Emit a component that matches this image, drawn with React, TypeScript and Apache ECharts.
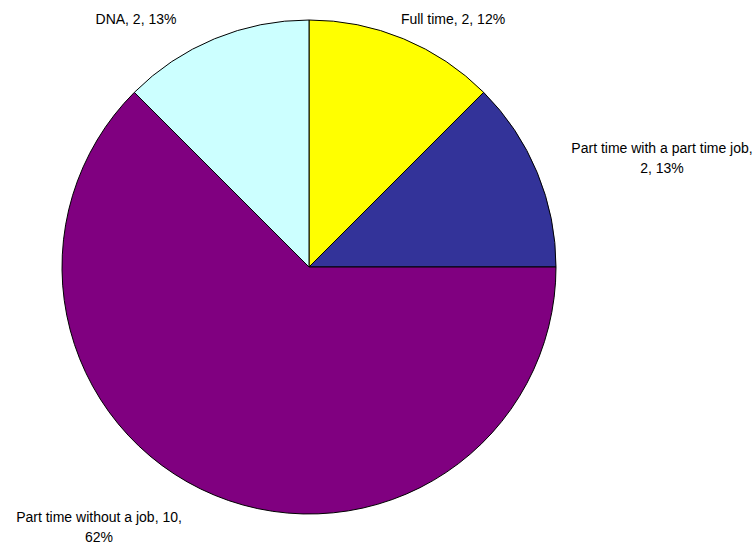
import React, { useEffect, useRef } from "react";
import * as echarts from "echarts";

const categories = ["Full time", "Part time with a part time job", "Part time without a job", "DNA"];
const values = [2, 2, 10, 2];
const percentLabels = ["12%", "13%", "62%", "13%"];
const colors = ["#FFFF00", "#333399", "#800080", "#CCFFFF"];
// number of label parts on the first line (rest goes to second line)
const firstLineParts = [3, 1, 2, 3];
const labelPos = [
  [453, 19],
  [662, 158],
  [99, 527],
  [136, 19],
];

export default function App() {
  const ref = useRef<HTMLDivElement>(null);
  useEffect(() => {
    const chart = echarts.init(ref.current!, undefined, { renderer: "svg" });
    chart.setOption({
      animation: false,
      backgroundColor: "#ffffff",
      series: [
        {
          type: "pie",
          center: [309, 267],
          radius: 247,
          startAngle: 90,
          clockwise: true,
          data: categories.map((c, i) => ({
            name: c,
            value: values[i],
            itemStyle: { color: colors[i] },
          })),
          itemStyle: { borderColor: "#000000", borderWidth: 1 },
          label: {
            show: true,
            position: "outside",
            color: "#000000",
            fontFamily: "Liberation Sans, Arial, sans-serif",
            fontSize: 14,
            lineHeight: 20,
            align: "center",
            overflow: "none",
            formatter: (p: any) => {
              const parts = [p.name, String(p.value), percentLabels[p.dataIndex]];
              const n = firstLineParts[p.dataIndex];
              const first = parts.slice(0, n).join(", ");
              const rest = parts.slice(n).join(", ");
              return rest ? first + ",\n" + rest : first;
            },
          },
          labelLine: { show: false },
          labelLayout: (params: any) => {
            const pos = labelPos[params.dataIndex];
            return { x: pos[0], y: pos[1], align: "center", verticalAlign: "middle" };
          },
          emphasis: { disabled: true },
        },
      ],
    });
    return () => chart.dispose();
  }, []);
  return (
    <div
      ref={ref}
      style={{ position: "fixed", left: 0, top: 0, width: 755, height: 545, background: "#fff" }}
    />
  );
}
